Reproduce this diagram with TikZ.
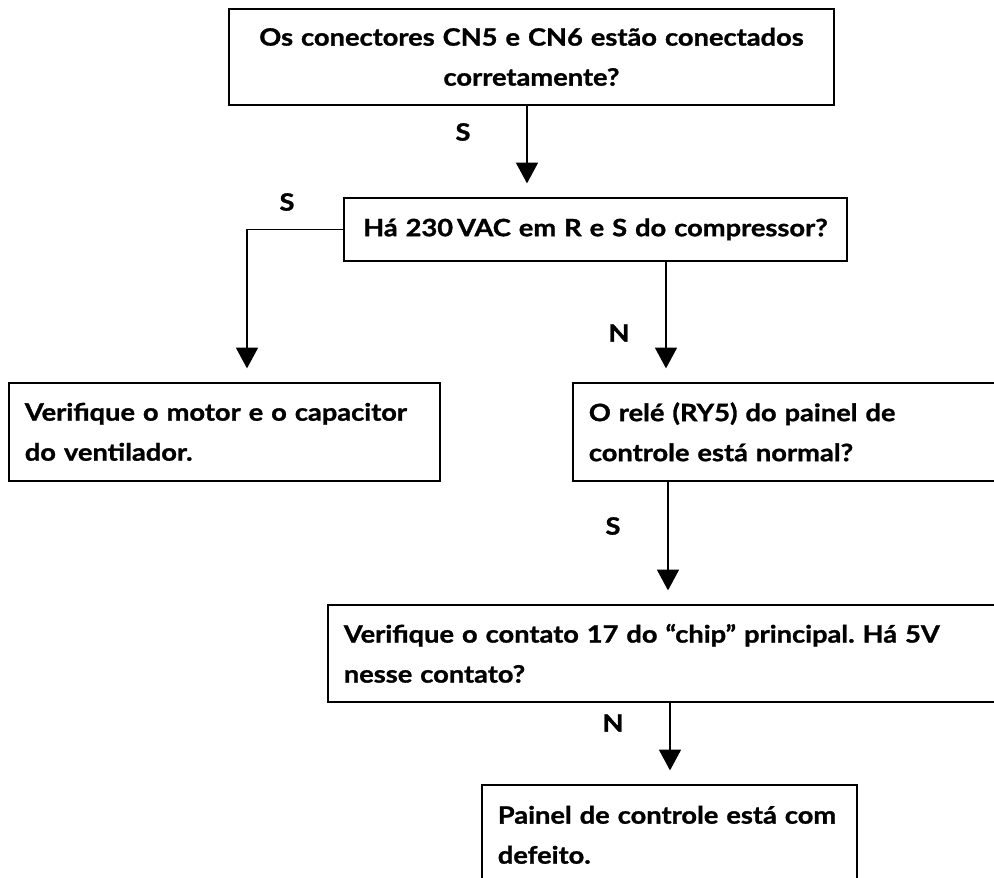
\documentclass[tikz,border=0pt]{standalone}
\usepackage{fontspec}
\setmainfont{Lato}[BoldFeatures={FakeStretch=1.14,FakeBold=1.2}]
\usetikzlibrary{calc}
\usetikzlibrary{arrows.meta}
\frenchspacing

\begin{document}
\begin{tikzpicture}[x=0.025cm, y=-0.025cm,
  box/.style={draw, line width=1.2pt, anchor=north west, inner xsep=0.4cm, inner ysep=0pt, align=left, font=\bfseries\fontsize{17}{28.45}\selectfont},
  lbl/.style={font=\bfseries\fontsize{17}{18}\selectfont},
  arr/.style={line width=1.2pt, -{Triangle[width=0.55cm, length=0.52cm]}, shorten >=0.34cm}]
\useasboundingbox (0,0) rectangle (994,878);
\clip (0,0) rectangle (994,878);
\node[box, align=center, text width=14.325cm, minimum height=2.4cm] (q1) at (228,8) {Os conectores CN5 e CN6 estão conectados\\corretamente?};
\node[box, align=center, text width=11.775cm, minimum height=1.575cm] (q2) at (343,197) {Há 230\,VAC em R e S do compressor?};
\node[box, text width=9.975cm, minimum height=2.45cm] (r1) at (8,382) {Verifique o motor e o capacitor\\do ventilador.};
\node[box, text width=10.45cm, minimum height=2.45cm] (q3) at (572,382) {O relé (RY5) do painel de\\controle está normal?};
\node[box, text width=16.7cm, minimum height=2.425cm] (q4) at (327,604) {Verifique o contato 17 do “chip” principal. Há 5V\\nesse contato?};
\node[box, text width=8.575cm, minimum height=2.5cm] (r2) at (481,784) {Painel de controle está com\\defeito.};
\coordinate (a1) at ($(q1.south west)+(299,0)$);
\coordinate (a2) at ($(r1.north west)+(239,0)$);
\coordinate (a3) at ($(q3.north west)+(94,0)$);
\coordinate (a4) at ($(q4.north west)+(341,0)$);
\coordinate (a5) at ($(r2.north west)+(189,0)$);
\draw[arr] (a1) -- (a1 |- q2.north);
\draw[arr] (q2.west) -| (a2);
\draw[arr] (a3 |- q2.south) -- (a3);
\draw[arr] (a4 |- q3.south) -- (a4);
\draw[arr] (a5 |- q4.south) -- (a5);
\node[lbl] (s1) at (463,132) {S};
\node[lbl] (s2) at (287,202) {S};
\node[lbl] (n1) at (619,333) {N};
\node[lbl] (s3) at (613,526) {S};
\node[lbl] (n2) at (613,723) {N};
\end{tikzpicture}
\end{document}
